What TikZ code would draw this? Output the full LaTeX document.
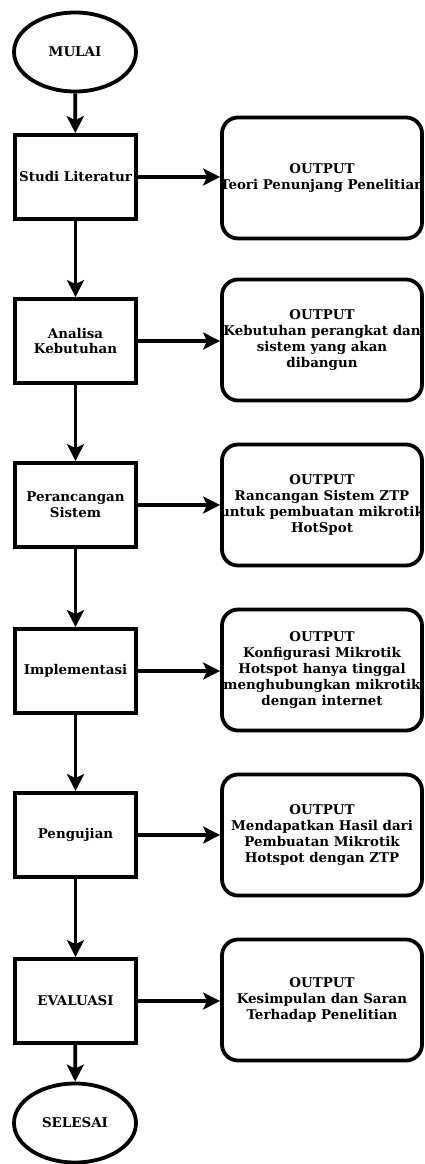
\documentclass[tikz,border=0pt]{standalone}
\usepackage{fontspec}
\setmainfont{DejaVu Serif}
\usetikzlibrary{shapes.geometric,arrows.meta}
\begin{document}
\begin{tikzpicture}[x=1pt,y=-1pt,
  every node/.style={font=\bfseries\fontsize{13.4}{15.8}\selectfont,align=center},
  term/.style={draw,ellipse,line width=3.8pt,minimum width=122pt,minimum height=79pt,inner sep=0pt},
  proc/.style={draw,rectangle,line width=3.8pt,minimum width=121pt,minimum height=84pt,inner sep=0pt},
  outbox/.style={draw,rectangle,rounded corners=16pt,line width=3.8pt,minimum width=200pt,minimum height=121pt,inner xsep=-5pt,inner ysep=0pt},
  conn/.style={line width=3.8pt,-{Stealth[length=17pt,width=17pt,inset=4pt]}}]
\useasboundingbox (0,0) rectangle (425,1164);
\node[term] (mulai) at (75,52) {MULAI};
\node[proc] (s1) at (75.5,177) {Studi Literatur};
\node[proc] (s2) at (75.5,341) {Analisa\\Kebutuhan};
\node[proc] (s3) at (75.5,505) {Perancangan\\Sistem};
\node[proc] (s4) at (75.5,671) {Implementasi};
\node[proc] (s5) at (75.5,835) {Pengujian};
\node[proc] (s6) at (75.5,1001) {EVALUASI};
\node[term] (selesai) at (75,1123) {SELESAI};
\node[outbox] (o1) at (322,178) {OUTPUT\\Teori Penunjang Penelitian};
\node[outbox] (o2) at (322,340) {OUTPUT\\Kebutuhan perangkat dan\\sistem yang akan\\dibangun};
\node[outbox] (o3) at (322,505) {OUTPUT\\Rancangan Sistem ZTP\\untuk pembuatan mikrotik\\HotSpot};
\node[outbox] (o4) at (322,670) {OUTPUT\\Konfigurasi Mikrotik\\Hotspot hanya tinggal\\menghubungkan mikrotik\\dengan internet};
\node[outbox] (o5) at (322,835) {OUTPUT\\Mendapatkan Hasil dari\\Pembuatan Mikrotik\\Hotspot dengan ZTP};
\node[outbox] (o6) at (322,1000) {OUTPUT\\Kesimpulan dan Saran\\Terhadap Penelitian};
\draw[conn] (mulai) -- (s1);
\draw[conn] (s1) -- (s2);
\draw[conn] (s2) -- (s3);
\draw[conn] (s3) -- (s4);
\draw[conn] (s4) -- (s5);
\draw[conn] (s5) -- (s6);
\draw[conn] (s6) -- (selesai);
\foreach \i in {1,...,6} \draw[conn] (s\i.east) -- (s\i.east -| o\i.west);
\end{tikzpicture}
\end{document}
